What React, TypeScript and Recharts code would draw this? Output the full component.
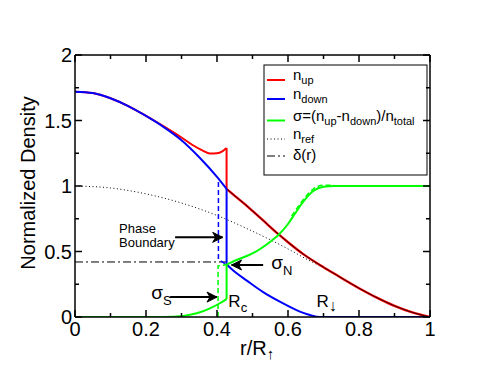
import React from 'react';
import { LineChart, Line, XAxis, YAxis, ReferenceDot, Customized } from 'recharts';

const FONT = '"Liberation Sans", Arial, Helvetica, sans-serif';

// n_up: inside the boundary, then outside it
const rUpIn = [0, 0.05, 0.1, 0.15, 0.2, 0.25, 0.3, 0.33, 0.36, 0.38, 0.4, 0.415, 0.427];
const nUpIn = [1.72, 1.71, 1.67, 1.61, 1.535, 1.455, 1.37, 1.315, 1.27, 1.248, 1.25, 1.265, 1.29];
const rUpOut = [0.427, 0.45, 0.48, 0.5, 0.53, 0.573, 0.6, 0.643, 0.7, 0.737, 0.8, 0.85, 0.9, 0.95, 1];
const nUpOut = [0.978, 0.925, 0.858, 0.81, 0.737, 0.632, 0.571, 0.48, 0.38, 0.32, 0.22, 0.148, 0.085, 0.035, 0];

// n_down
const rDownIn = [0, 0.05, 0.1, 0.15, 0.2, 0.25, 0.3, 0.35, 0.4, 0.427];
const nDownIn = [1.72, 1.71, 1.67, 1.61, 1.535, 1.45, 1.35, 1.22, 1.07, 0.978];
const rDownOut = [0.427, 0.45, 0.483, 0.53, 0.577, 0.624, 0.662, 0.69, 0.8, 0.9, 1];
const nDownOut = [0.4, 0.345, 0.28, 0.19, 0.117, 0.053, 0.015, 0, 0, 0, 0];

// sigma = (n_up - n_down) / n_total
const rSigIn = [0, 0.1, 0.2, 0.25, 0.305, 0.343, 0.38, 0.408, 0.427];
const sigIn = [0, 0, 0, 0, 0.008, 0.028, 0.066, 0.105, 0.137];
const rSigOut = [0.427, 0.455, 0.5, 0.55, 0.573, 0.6, 0.62, 0.643, 0.67, 0.7, 0.73, 0.76, 0.8, 0.9, 1];
const sigOut = [0.4, 0.435, 0.485, 0.575, 0.626, 0.71, 0.79, 0.88, 0.96, 0.995, 1, 1, 1, 1, 1];
const rSigDash = [0.61, 0.64, 0.67, 0.7, 0.73];
const sigDash = [0.77, 0.885, 0.975, 1.005, 1.005];

// n_ref and delta(r)
const rRef = [0, 0.1, 0.2, 0.3, 0.4, 0.5, 0.6, 0.65, 0.7, 0.8, 0.9, 1];
const nRef = [1.0, 0.985, 0.94, 0.87, 0.775, 0.655, 0.52, 0.445, 0.375, 0.22, 0.085, 0];
const rDelta = [0, 0.427];
const delta = [0.42, 0.42];

// dashed boundary traces
const rBlueDash = [0.404, 0.404, 0.427];
const nBlueDash = [1.03, 0.44, 0.4];
const rGreenDash = [0.403, 0.403, 0.427];
const nGreenDash = [0, 0.39, 0.4];

const xTicks = [0, 0.1, 0.2, 0.3, 0.4, 0.5, 0.6, 0.7, 0.8, 0.9, 1];
const yTicks = [0, 0.25, 0.5, 0.75, 1, 1.25, 1.5, 1.75, 2];

const pts = (xs: number[], ys: number[]) => xs.map((x, i) => ({ x, y: ys[i] }));

const isMajor = (v: number, step: number) => Math.abs(v / step - Math.round(v / step)) < 1e-6;
const fmt = (v: number) => String(Math.round(v * 10) / 10);

const BottomTick = (p: any) => {
  const v = p.payload.value;
  const major = isMajor(v, 0.2);
  return (
    <g>
      <line x1={p.x} x2={p.x} y1={p.y} y2={p.y - (major ? 7 : 4)} stroke="#000" strokeWidth={1.5} />
      {major && (
        <text x={p.x} y={p.y + 19} textAnchor="middle" fontSize={20} fontFamily={FONT} fill="#000">
          {fmt(v)}
        </text>
      )}
    </g>
  );
};
const TopTick = (p: any) => {
  const major = isMajor(p.payload.value, 0.2);
  return <line x1={p.x} x2={p.x} y1={p.y} y2={p.y + (major ? 7 : 4)} stroke="#000" strokeWidth={1.5} />;
};
const LeftTick = (p: any) => {
  const v = p.payload.value;
  const major = isMajor(v, 0.5);
  return (
    <g>
      <line x1={p.x} x2={p.x + (major ? 7 : 4)} y1={p.y} y2={p.y} stroke="#000" strokeWidth={1.5} />
      {major && (
        <text x={p.x - 3} y={p.y + 7} textAnchor="end" fontSize={20} fontFamily={FONT} fill="#000">
          {fmt(v)}
        </text>
      )}
    </g>
  );
};
const RightTick = (p: any) => {
  const major = isMajor(p.payload.value, 0.5);
  return <line x1={p.x} x2={p.x - (major ? 7 : 4)} y1={p.y} y2={p.y} stroke="#000" strokeWidth={1.5} />;
};

const arrowDot = (dir: number) => (p: any) => {
  if (p.index !== 1) return <g key={p.index} />;
  const { cx, cy } = p;
  const d = `M${cx},${cy} L${cx - dir * 10},${cy - 5} L${cx - dir * 7},${cy} L${cx - dir * 10},${cy + 5} Z`;
  return <path key={p.index} d={d} fill="#000" stroke="#000" strokeWidth={1} />;
};

const label = (main: string, sub: string, size: number, subSize: number, dy: number) => (p: any) => (
  <text x={p.cx} y={p.cy} fontSize={size} fontFamily={FONT} fill="#000">
    {main}
    <tspan dy={dy} fontSize={subSize}>{sub}</tspan>
  </text>
);

const plainText = (s: string, size: number) => (p: any) => (
  <text x={p.cx} y={p.cy} fontSize={size} fontFamily={FONT} fill="#000">{s}</text>
);

const Overlay = () => {
  const rows = [
    { y: 80, stroke: '#ff0000', dash: undefined as string | undefined, w: 2 },
    { y: 99, stroke: '#0000ff', dash: undefined, w: 2 },
    { y: 120.5, stroke: '#00ff00', dash: undefined, w: 2 },
    { y: 139, stroke: '#000', dash: '1 2.5', w: 1 },
    { y: 156, stroke: '#000', dash: '8 3 2 3', w: 1 },
  ];
  const t = { fontFamily: FONT, fill: '#000', fontSize: 15 };
  return (
    <g>
      <rect x={264} y={65} width={163} height={110} fill="#fff" stroke="#000" strokeWidth={1} />
      {rows.map((r, i) => (
        <line key={i} x1={267} x2={285} y1={r.y} y2={r.y} stroke={r.stroke} strokeWidth={r.w} strokeDasharray={r.dash} />
      ))}
      <text x={293} y={80} {...t}>n<tspan dy={4} fontSize={11}>up</tspan></text>
      <text x={293} y={99} {...t}>n<tspan dy={4} fontSize={11}>down</tspan></text>
      <text x={293} y={121} {...t}>
        σ=(n<tspan dy={4} fontSize={11}>up</tspan>
        <tspan dy={-4}>-n</tspan>
        <tspan dy={4} fontSize={11}>down</tspan>
        <tspan dy={-4}>)/n</tspan>
        <tspan dy={4} fontSize={11}>total</tspan>
      </text>
      <text x={293} y={139} {...t}>n<tspan dy={4} fontSize={11}>ref</tspan></text>
      <text x={293} y={160} {...t}>δ(r)</text>
      <text x={35} y={183} transform="rotate(-90 35 183)" textAnchor="middle" fontSize={20} fontFamily={FONT} fill="#000">
        Normalized Density
      </text>
      <text x={240} y={355} fontSize={20} fontFamily={FONT} fill="#000">
        r/R<tspan dy={4} fontSize={15}>↑</tspan>
      </text>
    </g>
  );
};

const seg = (key: string, xs: number[], ys: number[], stroke: string, opts: any = {}) => (
  <Line
    key={key}
    data={pts(xs, ys)}
    dataKey="y"
    type={opts.type || 'monotoneX'}
    stroke={stroke}
    strokeWidth={opts.w || 2}
    strokeDasharray={opts.dash}
    dot={opts.dot || false}
    activeDot={false}
    isAnimationActive={false}
    legendType="none"
  />
);

export default function App() {
  return (
    <div style={{ position: 'absolute', left: 0, top: 0, background: '#fff' }}>
      <LineChart width={485} height={374} margin={{ top: 0, right: 0, bottom: 0, left: 0 }}>
        <XAxis
          xAxisId={0}
          type="number"
          dataKey="x"
          domain={[0, 1]}
          ticks={xTicks}
          interval={0}
          height={57}
          tickSize={0}
          tickMargin={0}
          tick={<BottomTick />}
          axisLine={{ stroke: '#000', strokeWidth: 1.5 }}
          tickLine={false}
          allowDataOverflow
        />
        <XAxis
          xAxisId="top"
          orientation="top"
          type="number"
          dataKey="x"
          domain={[0, 1]}
          ticks={xTicks}
          interval={0}
          height={55}
          tickSize={0}
          tickMargin={0}
          tick={<TopTick />}
          axisLine={{ stroke: '#000', strokeWidth: 1.5 }}
          tickLine={false}
          allowDataOverflow
        />
        <YAxis
          yAxisId={0}
          type="number"
          domain={[0, 2]}
          ticks={yTicks}
          interval={0}
          width={75}
          tickSize={0}
          tickMargin={0}
          tick={<LeftTick />}
          axisLine={{ stroke: '#000', strokeWidth: 1.5 }}
          tickLine={false}
          allowDataOverflow
        />
        <YAxis
          yAxisId="right"
          orientation="right"
          type="number"
          domain={[0, 2]}
          ticks={yTicks}
          interval={0}
          width={55}
          tickSize={0}
          tickMargin={0}
          tick={<RightTick />}
          axisLine={{ stroke: '#000', strokeWidth: 1.5 }}
          tickLine={false}
          allowDataOverflow
        />
        <Customized component={Overlay} />
        {seg('ref', rRef, nRef, '#000', { w: 1, dash: '1 2.5' })}
        {seg('delta', rDelta, delta, '#000', { w: 1, dash: '8 3 2 3', type: 'linear' })}
        {seg('upIn', rUpIn, nUpIn, '#ff0000')}
        {seg('upJump', [0.427, 0.427], [nUpIn[nUpIn.length - 1], nUpOut[0]], '#ff0000', { type: 'linear' })}
        {seg('upOut', rUpOut, nUpOut, '#ff0000', { w: 2.4 })}
        {seg('fit', rUpOut, nUpOut, '#000', { w: 0.8 })}
        {seg('downIn', rDownIn, nDownIn, '#0000ff')}
        {seg('downJump', [0.427, 0.427], [nDownIn[nDownIn.length - 1], nDownOut[0]], '#0000ff', { type: 'linear' })}
        {seg('downOut', rDownOut, nDownOut, '#0000ff')}
        {seg('blueDash', rBlueDash, nBlueDash, '#0000ff', { w: 1.5, dash: '5 3', type: 'linear' })}
        {seg('sigIn', rSigIn, sigIn, '#00ff00')}
        {seg('sigJump', [0.427, 0.427], [sigIn[sigIn.length - 1], sigOut[0]], '#00ff00', { type: 'linear' })}
        {seg('sigOut', rSigOut, sigOut, '#00ff00')}
        {seg('sigDash', rSigDash, sigDash, '#00ff00', { w: 1.5, dash: '5 3' })}
        {seg('greenDash', rGreenDash, nGreenDash, '#00ff00', { w: 1.5, dash: '5 3', type: 'linear' })}
        {seg('arrPB', [0.282, 0.416], [0.608, 0.608], '#000', { type: 'linear', dot: arrowDot(1) })}
        {seg('arrS', [0.268, 0.4], [0.152, 0.152], '#000', { type: 'linear', dot: arrowDot(1) })}
        {seg('arrN', [0.53, 0.441], [0.397, 0.397], '#000', { type: 'linear', dot: arrowDot(-1) })}
        <ReferenceDot x={0.124} y={0.64} r={0} shape={plainText('Phase', 13)} />
        <ReferenceDot x={0.124} y={0.534} r={0} shape={plainText('Boundary', 13)} />
        <ReferenceDot x={0.215} y={0.135} r={0} shape={label('σ', 'S', 19, 13, 6)} />
        <ReferenceDot x={0.553} y={0.37} r={0} shape={label('σ', 'N', 19, 13, 6)} />
        <ReferenceDot x={0.432} y={0.074} r={0} shape={label('R', 'c', 17, 13, 5)} />
        <ReferenceDot x={0.68} y={0.079} r={0} shape={label('R', '↓', 17, 16, 4)} />
      </LineChart>
    </div>
  );
}
